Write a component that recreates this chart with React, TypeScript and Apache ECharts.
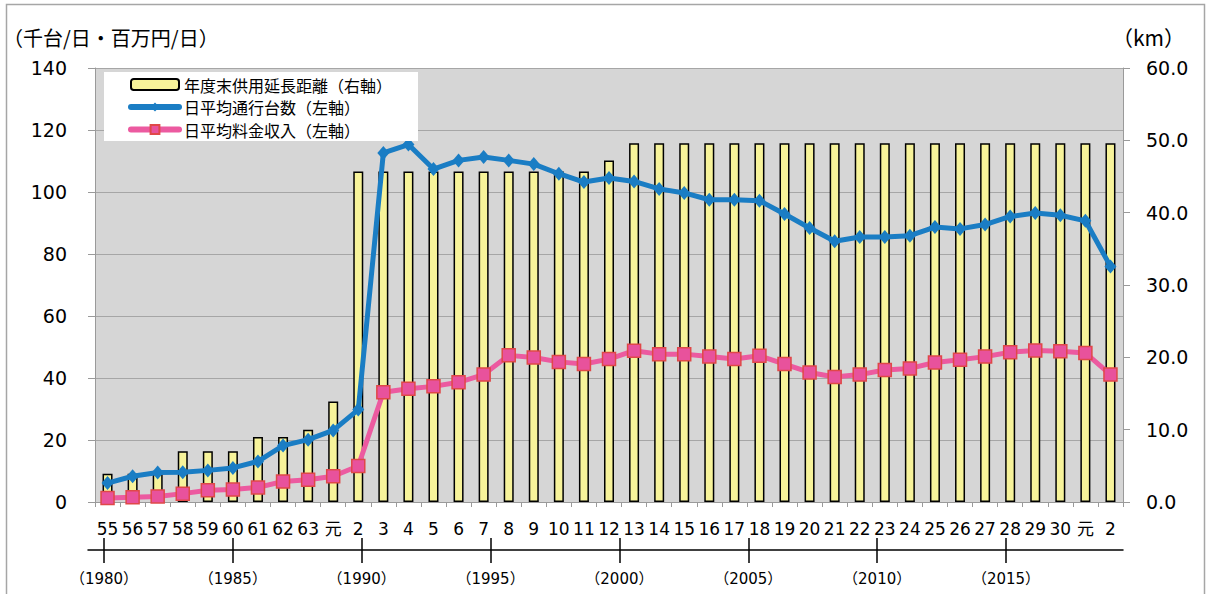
import React, { useEffect, useRef } from 'react';
import * as echarts from 'echarts';

// Fiscal-year labels (Showa 55 … Reiwa 2 = 1980 … 2020)
const categories = [
  '55', '56', '57', '58', '59', '60', '61', '62', '63', '元',
  '2', '3', '4', '5', '6', '7', '8', '9', '10', '11',
  '12', '13', '14', '15', '16', '17', '18', '19', '20', '21',
  '22', '23', '24', '25', '26', '27', '28', '29', '30', '元', '2',
];

// 年度末供用延長距離 (km, right axis)
const lengthKm = [
  3.9, 3.9, 3.9, 7.0, 7.0, 7.0, 9.0, 9.0, 10.0, 13.9,
  45.7, 45.7, 45.7, 45.7, 45.7, 45.7, 45.7, 45.7, 45.7, 45.7,
  47.2, 49.6, 49.6, 49.6, 49.6, 49.6, 49.6, 49.6, 49.6, 49.6,
  49.6, 49.6, 49.6, 49.6, 49.6, 49.6, 49.6, 49.6, 49.6, 49.6, 49.6,
];

// 日平均通行台数 (千台/日, left axis)
const trafficK = [
  6.1, 8.3, 9.5, 9.6, 10.2, 11.0, 13.1, 18.2, 20.1, 23.1,
  29.8, 112.6, 115.3, 107.4, 110.2, 111.3, 110.2, 109.0, 105.9, 103.2,
  104.5, 103.4, 101.0, 99.7, 97.5, 97.5, 97.2, 92.9, 88.4, 84.1,
  85.5, 85.5, 85.9, 88.7, 88.1, 89.5, 92.1, 93.2, 92.5, 90.7, 76.0,
];

// 日平均料金収入 (百万円/日, left axis)
const revenueM = [
  1.3, 1.5, 1.8, 2.7, 3.8, 4.0, 4.7, 6.6, 7.2, 8.3,
  11.6, 35.4, 36.5, 37.3, 38.6, 41.1, 47.3, 46.6, 45.2, 44.5,
  46.1, 48.8, 47.7, 47.7, 46.9, 46.1, 47.2, 44.5, 41.8, 40.3,
  41.1, 42.6, 43.1, 45.0, 45.9, 46.9, 48.3, 48.9, 48.6, 48.1, 41.1,
];

// Western-year reference ticks
const yearTicks = [1980, 1985, 1990, 1995, 2000, 2005, 2010, 2015];
const yearMin = 1979.38;
const yearMax = 2019.54;

const NAME_LEN = '年度末供用延長距離（右軸）';
const NAME_TRAFFIC = '日平均通行台数（左軸）';
const NAME_REV = '日平均料金収入（左軸）';

const NUM_FONT = "'DejaVu Sans', 'Noto Sans CJK JP', sans-serif";
const CJK_FONT = "'Noto Sans CJK JP', sans-serif";

export default function App() {
  const ref = useRef<HTMLDivElement>(null);

  useEffect(() => {
    if (!ref.current) return;
    const chart = echarts.init(ref.current, undefined, { renderer: 'svg' });
    const axisGray = '#9a9a9a';
    const option: any = {
      animation: false,
      backgroundColor: '#ffffff',
      textStyle: { fontFamily: NUM_FONT, color: '#000' },
      graphic: [
        {
          type: 'rect',
          shape: { x: 6.5, y: 4.5, width: 1198, height: 620 },
          style: { fill: 'none', stroke: '#a6a6a6', lineWidth: 1.5 },
          silent: true,
        },
        {
          type: 'text',
          x: 3,
          y: 37,
          style: {
            text: '（千台/日・百万円/日）',
            font: `20px ${CJK_FONT}`,
            fill: '#000',
            verticalAlign: 'middle',
          },
        },
        {
          type: 'text',
          x: 1112,
          y: 37,
          style: {
            text: '（km）',
            font: `21px ${CJK_FONT}`,
            fill: '#000',
            verticalAlign: 'middle',
          },
        },
      ],
      legend: {
        left: 104,
        top: 72,
        orient: 'vertical',
        backgroundColor: '#ffffff',
        padding: [4, 26, 3, 24],
        itemWidth: 48,
        itemHeight: 11,
        itemGap: 5.5,
        selectedMode: false,
        lineStyle: { width: 6, cap: 'round' },
        textStyle: { fontFamily: CJK_FONT, fontSize: 16, lineHeight: 17, color: '#000' },
        data: [NAME_LEN, NAME_TRAFFIC, NAME_REV],
      },
      grid: [
        {
          left: 95, right: 85, top: 68, bottom: 92,
          show: true, backgroundColor: '#d6d6d6', borderWidth: 0,
        },
        { left: 88, right: 85, top: 530, bottom: 44, show: false },
      ],
      xAxis: [
        {
          type: 'category',
          gridIndex: 0,
          data: categories,
          boundaryGap: true,
          axisLine: { show: true, lineStyle: { color: axisGray, width: 1 } },
          axisTick: { show: true, length: 5, lineStyle: { color: axisGray } },
          axisLabel: {
            interval: 0, margin: 18, fontSize: 17, color: '#000', fontFamily: NUM_FONT,
          },
          splitLine: { show: false },
        },
        {
          type: 'value',
          gridIndex: 1,
          position: 'bottom',
          min: yearMin,
          max: yearMax,
          axisLine: { show: true, onZero: false, lineStyle: { color: '#000', width: 1.5 } },
          axisTick: { show: true, length: 13, customValues: yearTicks, lineStyle: { color: '#000', width: 1.5 } },
          axisLabel: {
            customValues: yearTicks,
            formatter: (v: number) => `（${v}）`,
            margin: 21,
            fontSize: 15,
            color: '#000',
            fontFamily: NUM_FONT,
          },
          splitLine: { show: false },
        },
        {
          type: 'value',
          gridIndex: 1,
          position: 'bottom',
          min: yearMin,
          max: yearMax,
          axisLine: { show: false, onZero: false },
          axisTick: { show: true, inside: true, length: 12, customValues: yearTicks, lineStyle: { color: '#000', width: 1.5 } },
          axisLabel: { show: false },
          splitLine: { show: false },
        },
      ],
      yAxis: [
        {
          type: 'value',
          gridIndex: 0,
          min: 0,
          max: 140,
          interval: 20,
          axisLine: { show: true, lineStyle: { color: axisGray } },
          axisTick: { show: true, length: 7, lineStyle: { color: axisGray } },
          axisLabel: { margin: 28, fontSize: 19, color: '#000', fontFamily: NUM_FONT },
          splitLine: { show: true, lineStyle: { color: '#a6a6a6', width: 1.2 } },
        },
        {
          type: 'value',
          gridIndex: 0,
          position: 'right',
          min: 0,
          max: 60,
          interval: 10,
          axisLine: { show: true, lineStyle: { color: axisGray } },
          axisTick: { show: true, length: 7, lineStyle: { color: axisGray } },
          axisLabel: {
            margin: 23, fontSize: 19, color: '#000', fontFamily: NUM_FONT,
            formatter: (v: number) => v.toFixed(1),
          },
          splitLine: { show: false },
        },
        {
          type: 'value',
          gridIndex: 1,
          show: false,
          min: 0,
          max: 1,
        },
      ],
      series: [
        {
          name: NAME_LEN,
          type: 'bar',
          xAxisIndex: 0,
          yAxisIndex: 1,
          data: lengthKm,
          barWidth: 10,
          itemStyle: { color: '#f7f39a', borderColor: '#000', borderWidth: 1.5 },
        },
        {
          name: NAME_TRAFFIC,
          type: 'line',
          xAxisIndex: 0,
          yAxisIndex: 0,
          data: trafficK,
          symbol: 'diamond',
          symbolSize: [12, 14],
          lineStyle: { color: '#1a7dc4', width: 5, cap: 'round', join: 'round' },
          itemStyle: { color: '#1a7dc4' },
          z: 3,
        },
        {
          name: NAME_REV,
          type: 'line',
          xAxisIndex: 0,
          yAxisIndex: 0,
          data: revenueM,
          symbol: 'rect',
          symbolSize: 13,
          lineStyle: { color: '#ec5aa0', width: 5, cap: 'round', join: 'round' },
          itemStyle: { color: '#e8529c', borderColor: '#e04848', borderWidth: 1.5 },
          z: 4,
        },
      ],
    };
    chart.setOption(option);
    return () => chart.dispose();
  }, []);

  return (
    <div
      ref={ref}
      style={{ position: 'absolute', left: 0, top: 0, width: 1208, height: 594 }}
    />
  );
}
